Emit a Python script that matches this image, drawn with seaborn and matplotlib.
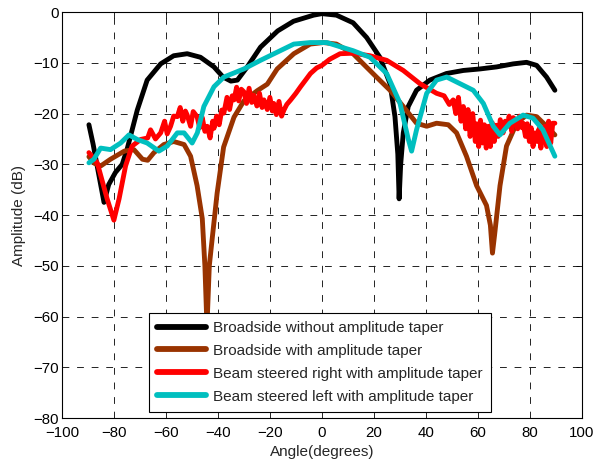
import numpy as np
import pandas as pd
import seaborn as sns
import matplotlib
matplotlib.use("Agg")
import matplotlib.pyplot as plt

# ---- data ----
black_x = [-89.6, -88, -86, -83.8, -82, -79.4, -76.8, -74.9, -71, -67.2,
           -62, -57, -51.8, -46.7, -41.5, -38, -35, -32.5, -28.7, -23.6,
           -17, -10.9, -3.2, 0, 5.6, 12, 17.2, 22.3, 26.2, 28.1,
           29.2, 29.7, 30.3, 31.3, 33.2, 36.4, 41.5, 47.9, 54.4, 60.8,
           67.2, 73.6, 78.7, 82.6, 86.4, 89.6]
black_y = [-22.2, -26, -31.5, -37.5, -34, -31.6, -30, -27, -19.3, -13.4,
           -10.2, -8.6, -8.2, -8.9, -10.8, -12.8, -13.6, -13.4, -10.8, -6.9,
           -3.7, -1.8, -0.6, -0.3, -0.6, -2.1, -5, -8.9, -14.1, -20.6,
           -28, -36.8, -30, -23.8, -18.6, -15.4, -13.4, -12.1, -11.5, -11.2,
           -10.8, -10.2, -9.9, -10.5, -12.8, -15.4]

brown_x = [-89.6, -87.5, -85, -81.3, -76, -72.3, -69, -67, -64.6, -60.8,
           -57, -53, -50.5, -48, -46, -45, -44.2, -43.3, -42.2, -40.3,
           -37.8, -33.8, -30, -24.9, -21, -17.2, -10.8, -4.5, 0.6, 5.6,
           12, 15.9, 21, 26.2, 31.3, 36.4, 40.3, 44.1, 48.6, 51.8,
           55.6, 59.5, 63.3, 64.8, 65.6, 66.4, 68.5, 71, 74.9, 78.7,
           82.6, 86.4, 89.6]
brown_y = [-28.5, -29.8, -30.3, -29, -27.4, -27.1, -29, -29.2, -27.7, -26.1,
           -25.5, -26.1, -28.4, -34.2, -40.7, -50, -62, -50, -44.7, -35.7,
           -26.6, -20.7, -17.5, -15.5, -14.2, -11.2, -8.2, -6.3, -6, -6.3,
           -8.2, -10.2, -12.8, -15.4, -18.6, -21.9, -22.5, -21.9, -22.2, -23.8,
           -28.4, -34.2, -38.1, -42, -47.5, -44, -34.2, -26.4, -21.9, -20.3,
           -20.6, -22.5, -24.2]

red_x = [-89.6, -86.4, -82.6, -80, -78, -75.5, -73, -69.7, -67, -65.9,
         -64, -62, -60.5, -59.5, -58.2, -57, -55.6, -54.5, -53.5, -52.5,
         -51.8, -50.5, -49.5, -48, -47, -46, -45, -44.1, -43, -42,
         -41.5, -40.5, -39.5, -38.5, -37.7, -36.5, -35.5, -34.5, -33.8, -32.8,
         -32, -31, -30, -29, -28, -27, -26.2, -25, -24, -23,
         -22.3, -21, -20, -19, -18.5, -17.5, -16.5, -15.5, -14.6, -13.5,
         -12, -10, -8.2, -6, -4.4, -2, 0, 3, 7, 12,
         18.5, 24.9, 31.3, 37.7, 44.1, 47, 49, 50.5, 51.5, 52.5,
         53.5, 54.4, 55.3, 56.2, 57, 58, 59, 59.5, 60.3, 61,
         61.8, 62.5, 63.2, 64, 64.8, 65.5, 66.3, 67, 67.8, 68.6,
         69.7, 70.5, 71.3, 72, 73, 73.6, 74.5, 75.3, 76, 77,
         77.4, 78.3, 79, 79.8, 80.5, 81.2, 82, 82.8, 83.5, 84.2,
         85, 85.8, 86.5, 87.2, 88, 88.8, 89.6]
red_y = [-27.7, -29.7, -36.8, -41, -36.8, -30.3, -26.4, -25.1, -24.8, -23.2,
         -25, -23.8, -21.5, -24, -22.5, -20.5, -20.6, -18.8, -21.5, -19.5,
         -20.3, -22.5, -19.6, -20.6, -22.8, -20.8, -23.5, -22.5, -24.8, -21.5,
         -22.9, -20.5, -22.2, -19.3, -19.9, -16.8, -19.2, -16.5, -17.3, -14.8,
         -17.5, -15.2, -15.7, -18, -15, -17.8, -16.4, -18.5, -16, -18.8,
         -17.3, -19.2, -16.8, -19.5, -18, -20.2, -17.6, -20.5, -19.3, -18.2,
         -17.3, -16, -14.7, -13.2, -12.1, -11, -10.5, -9.3, -8.2, -8.1,
         -8.6, -9.5, -11.5, -14.1, -16, -16.5, -18.2, -17.3, -20, -16.8,
         -21.5, -18.6, -23, -19.2, -24.5, -20, -25.5, -22, -26.5, -21.3,
         -25.8, -22.2, -26.8, -22.5, -26.5, -21.8, -25.5, -22.3, -24.5, -21.2,
         -23.8, -21.5, -22.5, -20.5, -23.5, -20.8, -21.2, -23, -20.5, -22.8,
         -21.9, -24.5, -22, -25.5, -22.8, -26.5, -23.8, -25.5, -23, -26.8,
         -24.5, -22.5, -26.5, -21.5, -25.8, -21.9, -21.9]

cyan_x = [-89.6, -87.7, -85.1, -81.3, -77.4, -74.2, -71, -67.2, -62.7, -59.5,
          -55.6, -53, -49.9, -47.9, -45.4, -41.5, -37.7, -30, -23.6, -17.2,
          -10.8, -4.5, 1.9, 5.6, 12, 18.5, 24.9, 30, 33.2, 34.5,
          36.4, 40.3, 44.1, 48, 53.1, 58.2, 62.1, 65.9, 68.5, 72.3,
          77.4, 81.2, 85, 89.6]
cyan_y = [-29.7, -29, -26.8, -27.1, -25.8, -24.2, -25.1, -25.8, -27.4, -26.4,
          -23.8, -23.8, -25.8, -23.8, -18.6, -14.7, -12.8, -11.2, -9.5, -7.9,
          -6.3, -6, -6, -6.6, -7.6, -8.9, -12.1, -17.9, -25, -27.4,
          -23.2, -16, -13.4, -12.8, -14.1, -15.4, -18, -22.5, -24.2, -21.9,
          -20.3, -20.9, -23.2, -28.4]

labels = ["Broadside without amplitude taper", "Broadside with amplitude taper",
          "Beam steered right with amplitude taper", "Beam steered left with amplitude taper"]
colors = ["#000000", "#993300", "#ff0000", "#00bfbf"]

x_ticks = [-100, -80, -60, -40, -20, 0, 20, 40, 60, 80, 100]
y_ticks = [-80, -70, -60, -50, -40, -30, -20, -10, 0]

sns.set_theme(style="white")
plt.rcParams["font.family"] = ["Liberation Sans", "DejaVu Sans"]

fig = plt.figure(figsize=(5.95, 4.66), dpi=100)
ax = fig.add_axes([0.104, 0.103, 0.874, 0.871])

series = [(black_x, black_y), (brown_x, brown_y), (red_x, red_y), (cyan_x, cyan_y)]
frames = []
for (xs, ys), lab in zip(series, labels):
    frames.append(pd.DataFrame({"Angle": xs, "Amp": ys, "series": lab}))
df = pd.concat(frames, ignore_index=True)

sns.lineplot(data=df, x="Angle", y="Amp", hue="series", hue_order=labels,
             palette=colors, sort=False, estimator=None, linewidth=3.5, ax=ax)

ax.set_xlim(-100, 100)
ax.set_ylim(-80, 0)
ax.set_xticks(x_ticks)
ax.set_yticks(y_ticks)
ax.tick_params(direction="in", top=True, right=True, length=4, width=0.6,
               labelsize=10.8, colors="black")
ax.tick_params(axis="x", pad=5.5)
ax.tick_params(axis="y", pad=2.5)
ax.grid(True, color="#222222", linestyle=(0, (7, 8)), linewidth=0.7)
for s in ax.spines.values():
    s.set_color("black")
    s.set_linewidth(0.8)
ax.set_xlabel("Angle(degrees)", fontsize=11, labelpad=4)
ax.set_ylabel("Amplitude (dB)", fontsize=11, labelpad=5)

leg = ax.legend(loc="lower left", bbox_to_anchor=(0.167, 0.015), fontsize=11,
                frameon=True, fancybox=False, edgecolor="black", framealpha=1,
                handlelength=3.2, handletextpad=0.45, borderpad=0.55, labelspacing=0.58,
                borderaxespad=0)
leg.get_frame().set_linewidth(0.8)
for h in leg.get_lines():
    h.set_linewidth(4.2)

fig.savefig("out.png", dpi=100)
